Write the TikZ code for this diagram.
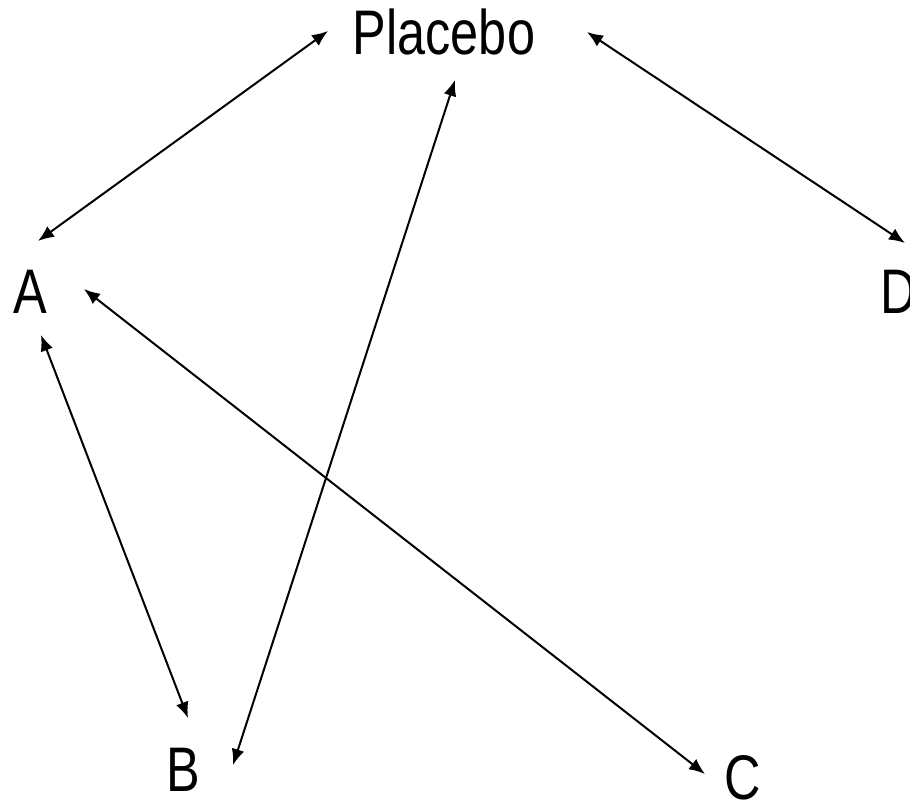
\documentclass[tikz,border=0pt]{standalone}
\usepackage{fontspec}
\setmainfont{Liberation Sans}[FakeStretch=0.8]
\usetikzlibrary{arrows.meta}
\begin{document}
\begin{tikzpicture}[x=1pt,y=-1pt,
  lbl/.style={inner sep=0pt,outer sep=0pt,anchor=base,text depth=0pt,font=\fontsize{63}{70}\selectfont},
  link/.style={line width=2pt,{Latex[length=16pt,width=13pt]}-{Latex[length=16pt,width=13pt]}}]
\useasboundingbox (0,0) rectangle (910,800);
\node[lbl] (P) at (444,55) {Placebo};
\node[lbl] (A) at (30,313) {A};
\node[lbl] (D) at (899,313) {D};
\node[lbl] (B) at (183,791) {B};
\node[lbl] (C) at (743,799) {C};
\draw[link] ([shift={(-116,-24)}]P.base) -- ([shift={(8,-72)}]A.base);
\draw[link] ([shift={(11,25)}]P.base) -- ([shift={(50,-26)}]B.base);
\draw[link] ([shift={(143,-23)}]P.base) -- ([shift={(6,-70)}]D.base);
\draw[link] ([shift={(11,22)}]A.base) -- ([shift={(5,-73)}]B.base);
\draw[link] ([shift={(54,-24)}]A.base) -- ([shift={(-38,-25)}]C.base);
\end{tikzpicture}
\end{document}
